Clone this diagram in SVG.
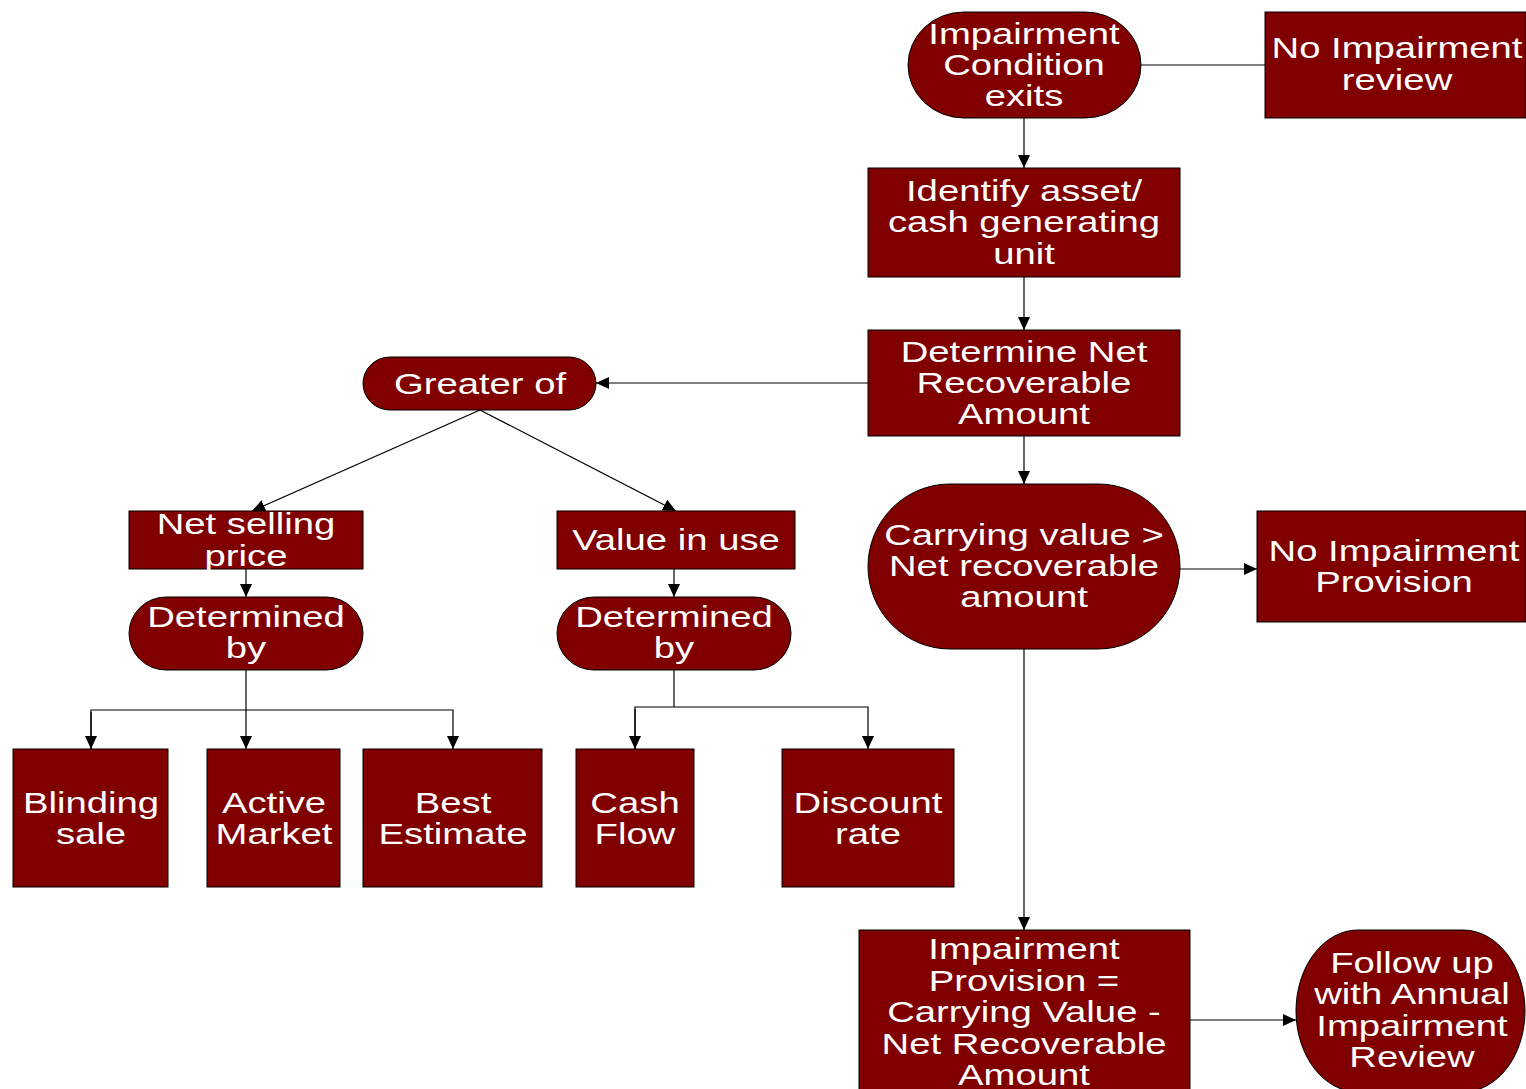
<svg xmlns="http://www.w3.org/2000/svg" width="1526" height="1089" viewBox="0 0 1526 1089">
<defs>
<style>
.n{fill:#800000;stroke:#000;stroke-width:1}
.t{font-family:"Liberation Sans",Arial,sans-serif;font-size:29px;fill:#fff;text-anchor:middle}
.c{fill:none;stroke:#000;stroke-width:1.2}
</style>
<marker id="ah" markerUnits="userSpaceOnUse" markerWidth="14" markerHeight="12" refX="13" refY="6" orient="auto">
<path d="M0,0 L13,6 L0,12 Z" fill="#000"/>
</marker>
</defs>
<rect width="1526" height="1089" fill="#fff"/>
<g id="connectors">
<line class="c" x1="1141" y1="65" x2="1265" y2="65"/>
<line class="c" x1="1024" y1="118" x2="1024" y2="168" marker-end="url(#ah)"/>
<line class="c" x1="1024" y1="277" x2="1024" y2="330" marker-end="url(#ah)"/>
<line class="c" x1="868" y1="383" x2="596" y2="383" marker-end="url(#ah)"/>
<line class="c" x1="480" y1="410" x2="252" y2="511" marker-end="url(#ah)"/>
<line class="c" x1="480" y1="410" x2="676" y2="511" marker-end="url(#ah)"/>
<line class="c" x1="246" y1="569" x2="246" y2="597" marker-end="url(#ah)"/>
<line class="c" x1="674" y1="569" x2="674" y2="597" marker-end="url(#ah)"/>
<line class="c" x1="246" y1="670" x2="246" y2="749" marker-end="url(#ah)"/>
<polyline class="c" points="91,749 91,710 453,710 453,749" marker-end="url(#ah)"/>
<line class="c" x1="91" y1="712" x2="91" y2="749" marker-end="url(#ah)"/>
<line class="c" x1="674" y1="670" x2="674" y2="707"/>
<polyline class="c" points="635,749 635,707 868,707 868,749" marker-end="url(#ah)"/>
<line class="c" x1="635" y1="709" x2="635" y2="749" marker-end="url(#ah)"/>
<line class="c" x1="1024" y1="436" x2="1024" y2="484" marker-end="url(#ah)"/>
<line class="c" x1="1180" y1="569" x2="1257" y2="569" marker-end="url(#ah)"/>
<line class="c" x1="1024" y1="649" x2="1024" y2="930" marker-end="url(#ah)"/>
<line class="c" x1="1190" y1="1020" x2="1296" y2="1020" marker-end="url(#ah)"/>
</g>
<g id="n-condition">
<rect class="n" x="908" y="12" width="233" height="106" rx="56" ry="53"/>
<text class="t" transform="translate(1024 0) scale(1.32 1)"><tspan x="0" y="44">Impairment</tspan><tspan x="0" y="75">Condition</tspan><tspan x="0" y="106">exits</tspan></text>
</g>
<g id="n-noreview">
<rect class="n" x="1265" y="12" width="261" height="106"/>
<text class="t" transform="translate(1397 0) scale(1.32 1)"><tspan x="0" y="58">No Impairment</tspan><tspan x="0" y="90">review</tspan></text>
</g>
<g id="n-identify">
<rect class="n" x="868" y="168" width="312" height="109"/>
<text class="t" transform="translate(1024 0) scale(1.32 1)"><tspan x="0" y="201">Identify asset/</tspan><tspan x="0" y="232">cash generating</tspan><tspan x="0" y="264">unit</tspan></text>
</g>
<g id="n-determine">
<rect class="n" x="868" y="330" width="312" height="106"/>
<text class="t" transform="translate(1024 0) scale(1.32 1)"><tspan x="0" y="362">Determine Net</tspan><tspan x="0" y="393">Recoverable</tspan><tspan x="0" y="424">Amount</tspan></text>
</g>
<g id="n-greater">
<rect class="n" x="363" y="357" width="233" height="53" rx="27" ry="26.5"/>
<text class="t" transform="translate(480 0) scale(1.32 1)"><tspan x="0" y="394">Greater of</tspan></text>
</g>
<g id="n-nsp">
<rect class="n" x="129" y="511" width="234" height="58"/>
<text class="t" transform="translate(246 0) scale(1.32 1)"><tspan x="0" y="534">Net selling</tspan><tspan x="0" y="566">price</tspan></text>
</g>
<g id="n-viu">
<rect class="n" x="557" y="511" width="238" height="58"/>
<text class="t" transform="translate(676 0) scale(1.32 1)"><tspan x="0" y="550">Value in use</tspan></text>
</g>
<g id="n-detby1">
<rect class="n" x="129" y="597" width="234" height="73" rx="37" ry="36.5"/>
<text class="t" transform="translate(246 0) scale(1.32 1)"><tspan x="0" y="627">Determined</tspan><tspan x="0" y="658">by</tspan></text>
</g>
<g id="n-detby2">
<rect class="n" x="557" y="597" width="234" height="73" rx="37" ry="36.5"/>
<text class="t" transform="translate(674 0) scale(1.32 1)"><tspan x="0" y="627">Determined</tspan><tspan x="0" y="658">by</tspan></text>
</g>
<g id="n-blinding">
<rect class="n" x="13" y="749" width="155" height="138"/>
<text class="t" transform="translate(91 0) scale(1.32 1)"><tspan x="0" y="813">Blinding</tspan><tspan x="0" y="844">sale</tspan></text>
</g>
<g id="n-active">
<rect class="n" x="207" y="749" width="133" height="138"/>
<text class="t" transform="translate(274 0) scale(1.32 1)"><tspan x="0" y="813">Active</tspan><tspan x="0" y="844">Market</tspan></text>
</g>
<g id="n-best">
<rect class="n" x="363" y="749" width="179" height="138"/>
<text class="t" transform="translate(453 0) scale(1.32 1)"><tspan x="0" y="813">Best</tspan><tspan x="0" y="844">Estimate</tspan></text>
</g>
<g id="n-cash">
<rect class="n" x="576" y="749" width="118" height="138"/>
<text class="t" transform="translate(635 0) scale(1.32 1)"><tspan x="0" y="813">Cash</tspan><tspan x="0" y="844">Flow</tspan></text>
</g>
<g id="n-discount">
<rect class="n" x="782" y="749" width="172" height="138"/>
<text class="t" transform="translate(868 0) scale(1.32 1)"><tspan x="0" y="813">Discount</tspan><tspan x="0" y="844">rate</tspan></text>
</g>
<g id="n-carrying">
<rect class="n" x="868" y="484" width="312" height="165" rx="82" ry="82.5"/>
<text class="t" transform="translate(1024 0) scale(1.32 1)"><tspan x="0" y="545">Carrying value &gt;</tspan><tspan x="0" y="576">Net recoverable</tspan><tspan x="0" y="607">amount</tspan></text>
</g>
<g id="n-noprovision">
<rect class="n" x="1257" y="511" width="269" height="111"/>
<text class="t" transform="translate(1394 0) scale(1.32 1)"><tspan x="0" y="561">No Impairment</tspan><tspan x="0" y="592">Provision</tspan></text>
</g>
<g id="n-provision">
<rect class="n" x="859" y="930" width="331" height="165"/>
<text class="t" transform="translate(1024 0) scale(1.32 1)"><tspan x="0" y="959">Impairment</tspan><tspan x="0" y="991">Provision =</tspan><tspan x="0" y="1022">Carrying Value -</tspan><tspan x="0" y="1054">Net Recoverable</tspan><tspan x="0" y="1085">Amount</tspan></text>
</g>
<g id="n-followup">
<rect class="n" x="1296" y="930" width="229" height="162" rx="62" ry="81"/>
<text class="t" transform="translate(1412 0) scale(1.32 1)"><tspan x="0" y="973">Follow up</tspan><tspan x="0" y="1004">with Annual</tspan><tspan x="0" y="1036">Impairment</tspan><tspan x="0" y="1067">Review</tspan></text>
</g>
</svg>
